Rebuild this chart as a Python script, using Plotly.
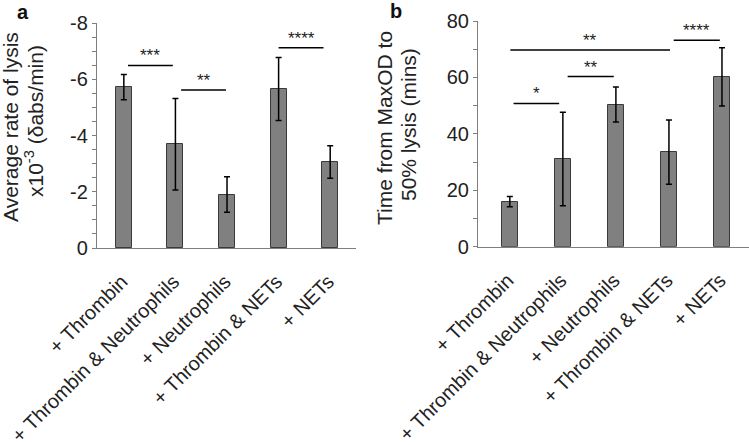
import plotly.graph_objects as go

categories = ["+ Thrombin", "+ Thrombin & Neutrophils", "+ Neutrophils",
              "+ Thrombin & NETs", "+ NETs"]

# Panel a: average rate of lysis (x10^-3 dabs/min)
rate_values = [-5.72, -3.69, -1.90, -5.65, -3.06]
rate_errors = [0.45, 1.63, 0.63, 1.12, 0.58]

# Panel b: time from MaxOD to 50% lysis (mins)
time_values = [16.0, 31.1, 50.4, 33.5, 60.2]
time_errors = [1.8, 16.6, 6.2, 11.4, 10.3]

# significance brackets: (x0, x1, y, label)
sig_a = [(0.08, 0.95, -6.49, "***"), (1.11, 1.98, -5.62, "**"), (3.00, 3.87, -7.12, "****")]
sig_b = [(0.07, 0.93, 50.8, "*"), (1.09, 1.96, 60.3, "**"),
         (0.01, 3.02, 69.7, "**"), (3.09, 3.96, 73.2, "****")]

rate_major = [0, -2, -4, -6, -8]
rate_labels = ["0", "-2", "-4", "-6", "-8"]
rate_minor = [-1, -3, -5, -7, -0.5, -1.5, -2.5, -3.5, -4.5, -5.5, -6.5, -7.5]
time_major = [0, 20, 40, 60, 80]
time_minor = [10, 30, 50, 70]

FONT = "Liberation Sans, Arial, sans-serif"
BAR = "#808080"
EDGE = "#3a3a3a"
AX = "#7f7f7f"

fig = go.Figure()
fig.add_trace(go.Bar(x=categories, y=rate_values, width=0.31,
                     marker=dict(color=BAR, line=dict(color=EDGE, width=1)),
                     error_y=dict(type="data", array=rate_errors, color="black",
                                  thickness=1.5, width=3),
                     xaxis="x", yaxis="y", showlegend=False))
fig.add_trace(go.Bar(x=categories, y=time_values, width=0.31,
                     marker=dict(color=BAR, line=dict(color=EDGE, width=1)),
                     error_y=dict(type="data", array=time_errors, color="black",
                                  thickness=1.5, width=3),
                     xaxis="x2", yaxis="y2", showlegend=False))

shapes = []
annotations = []
for (x0, x1, y, lab) in sig_a:
    shapes.append(dict(type="line", xref="x", yref="y", x0=x0, x1=x1, y0=y, y1=y,
                       line=dict(color="black", width=1.5)))
    annotations.append(dict(xref="x", yref="y", x=(x0 + x1) / 2, y=y, text=lab,
                            showarrow=False, yanchor="bottom", yshift=-2,
                            font=dict(size=17, color="#222", family=FONT)))
for (x0, x1, y, lab) in sig_b:
    shapes.append(dict(type="line", xref="x2", yref="y2", x0=x0, x1=x1, y0=y, y1=y,
                       line=dict(color="black", width=1.5)))
    annotations.append(dict(xref="x2", yref="y2", x=(x0 + x1) / 2, y=y, text=lab,
                            showarrow=False, yanchor="bottom", yshift=-2,
                            font=dict(size=17, color="#222", family=FONT)))

W, H = 749, 445
def px(x, y):
    return x / W, 1 - y / H

titles = [
    ("Average rate of lysis", 10, 127),
    ("x10<sup>-3</sup> (δabs/min)", 34, 121),
    ("Time from MaxOD to", 384, 128),
    ("50% lysis (mins)", 408, 125),
]
for t, x, y in titles:
    xx, yy = px(x, y)
    annotations.append(dict(xref="paper", yref="paper", x=xx, y=yy, text=t,
                            textangle=-90, showarrow=False, xanchor="center",
                            yanchor="middle", font=dict(size=21, color="#222", family=FONT)))
for t, x, y in [("a", 23, 12), ("b", 396, 11)]:
    xx, yy = px(x, y)
    annotations.append(dict(xref="paper", yref="paper", x=xx, y=yy, text="<b>" + t + "</b>",
                            showarrow=False, xanchor="center", yanchor="middle",
                            font=dict(size=20, color="#111", family=FONT)))

common_x = dict(type="category", showline=True, linecolor=AX, linewidth=1.2, ticks="",
                tickangle=-45, tickfont=dict(size=20, color="#222", family=FONT),
                ticklabelstandoff=13, ticklabelshift=-2,
                showgrid=False, zeroline=False, fixedrange=True)
common_y = dict(showline=True, linecolor=AX, linewidth=1.2, ticks="outside", ticklen=4,
                tickcolor=AX, tickfont=dict(size=20, color="#222", family=FONT),
                showgrid=False, zeroline=False)

fig.update_layout(
    width=W, height=H, margin=dict(l=0, r=0, t=0, b=0, autoexpand=False),
    paper_bgcolor="white", plot_bgcolor="white", bargap=0,
    xaxis=dict(common_x, domain=[97 / W, 356 / W], range=[-0.52, 4.5], anchor="y"),
    yaxis=dict(common_y, domain=[1 - 248 / H, 1 - 23 / H], range=[0, -8], anchor="x",
               tickmode="array", tickvals=rate_major, ticktext=rate_labels,
               minor=dict(tickmode="array", tickvals=rate_minor, ticks="outside",
                          ticklen=4, tickcolor=AX, showgrid=False)),
    xaxis2=dict(common_x, domain=[478 / W, 748.5 / W], range=[-0.6, 4.5], anchor="y2"),
    yaxis2=dict(common_y, domain=[1 - 246.7 / H, 1 - 21 / H], range=[0, 80], anchor="x2",
                tickmode="array", tickvals=time_major,
                minor=dict(tickmode="array", tickvals=time_minor, ticks="outside",
                           ticklen=4, tickcolor=AX, showgrid=False)),
    shapes=shapes, annotations=annotations,
)

fig.write_html("out.html", config={"displayModeBar": False},
               post_script="document.body.style.margin='0';document.body.style.overflow='hidden';")
